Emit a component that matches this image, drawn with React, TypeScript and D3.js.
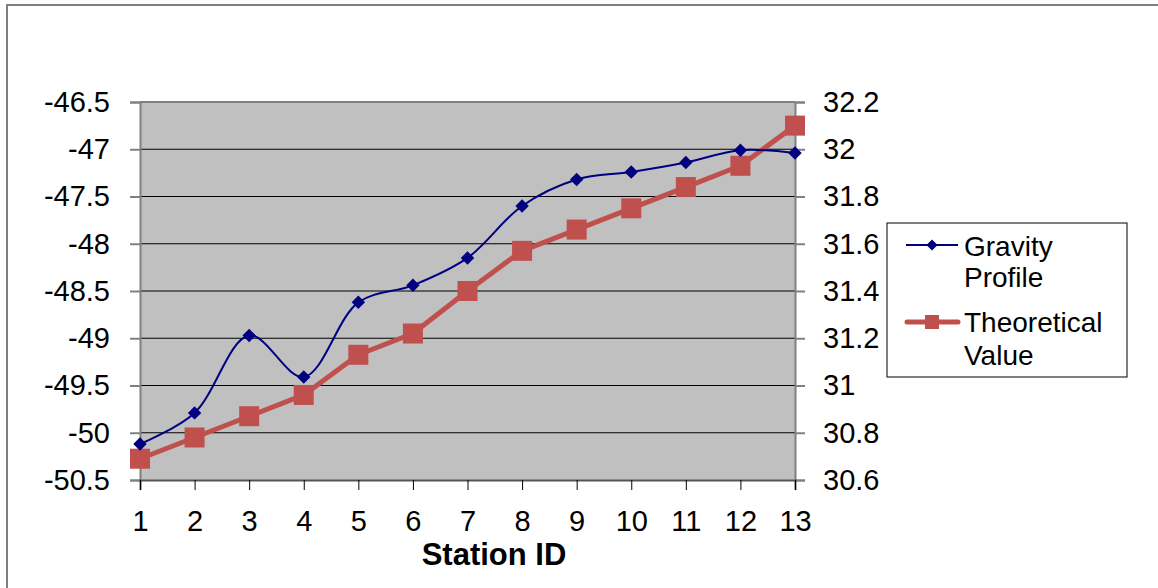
import * as d3 from "d3";
import { useEffect, useRef } from "react";

const stations = [1, 2, 3, 4, 5, 6, 7, 8, 9, 10, 11, 12, 13];
const gravityProfile = [
  -50.12, -49.79, -48.97, -49.41, -48.62, -48.44, -48.15, -47.6, -47.32,
  -47.24, -47.14, -47.01, -47.04,
];
const theoreticalValue = [
  30.69, 30.78, 30.87, 30.96, 31.13, 31.22, 31.4, 31.57, 31.66, 31.75, 31.84,
  31.93, 32.1,
];
const leftTicks = [-50.5, -50, -49.5, -49, -48.5, -48, -47.5, -47, -46.5];
const rightTicks = [30.6, 30.8, 31, 31.2, 31.4, 31.6, 31.8, 32, 32.2];

const W = 1158;
const H = 588;
const FONT = "'Liberation Sans', Arial, sans-serif";

export default function App() {
  const svgRef = useRef<SVGSVGElement>(null);

  useEffect(() => {
    const svg = d3.select(svgRef.current);
    svg.selectAll("*").remove();
    svg.attr("width", W).attr("height", H);

    const plot = { left: 140, right: 795, top: 102, bottom: 480 };

    const xScale = d3
      .scalePoint<number>()
      .domain(stations)
      .range([plot.left, plot.right]);
    const yLeft = d3
      .scaleLinear()
      .domain([-50.5, -46.5])
      .range([plot.bottom, plot.top]);
    const yRight = d3
      .scaleLinear()
      .domain([30.6, 32.2])
      .range([plot.bottom, plot.top]);

    // chart border
    svg
      .append("rect")
      .attr("x", 7)
      .attr("y", 5)
      .attr("width", W + 20)
      .attr("height", H + 20)
      .attr("fill", "#fff")
      .attr("stroke", "#808080")
      .attr("stroke-width", 2);

    // plot background
    svg
      .append("rect")
      .attr("x", plot.left)
      .attr("y", plot.top)
      .attr("width", plot.right - plot.left)
      .attr("height", plot.bottom - plot.top)
      .attr("fill", "#c0c0c0");

    // gridlines
    svg
      .append("g")
      .selectAll("line")
      .data(leftTicks.slice(1, -1))
      .enter()
      .append("line")
      .attr("x1", plot.left)
      .attr("x2", plot.right)
      .attr("y1", (d) => yLeft(d))
      .attr("y2", (d) => yLeft(d))
      .attr("stroke", "#000")
      .attr("stroke-width", 1);

    // top border of plot
    svg
      .append("line")
      .attr("x1", plot.left)
      .attr("x2", plot.right)
      .attr("y1", plot.top)
      .attr("y2", plot.top)
      .attr("stroke", "#808080")
      .attr("stroke-width", 2);

    // left axis
    const gl = svg.append("g").attr("transform", `translate(${plot.left},0)`);
    gl.call(
      d3
        .axisLeft(yLeft)
        .tickValues(leftTicks)
        .tickSize(10)
        .tickPadding(20)
        .tickFormat((d) => String(d).replace("\u2212", "-"))
    );
    gl.select(".domain").attr("stroke", "#808080").attr("stroke-width", 2);
    gl.selectAll(".tick line").attr("stroke", "#808080").attr("stroke-width", 2);
    gl.selectAll(".tick text")
      .attr("font-family", FONT)
      .attr("font-size", 29)
      .attr("fill", "#000");

    // right axis
    const gr = svg.append("g").attr("transform", `translate(${plot.right},0)`);
    gr.call(
      d3
        .axisRight(yRight)
        .tickValues(rightTicks)
        .tickSize(10)
        .tickPadding(18)
        .tickFormat((d) => String(d))
    );
    gr.select(".domain").attr("stroke", "#808080").attr("stroke-width", 2);
    gr.selectAll(".tick line").attr("stroke", "#808080").attr("stroke-width", 2);
    gr.selectAll(".tick text")
      .attr("font-family", FONT)
      .attr("font-size", 29)
      .attr("fill", "#000");

    // bottom axis
    const gb = svg.append("g").attr("transform", `translate(0,${plot.bottom})`);
    gb.call(d3.axisBottom(xScale).tickSize(10).tickPadding(20));
    gb.select(".domain").attr("stroke", "#555").attr("stroke-width", 2);
    gb.selectAll(".tick line").attr("stroke", "#000");
    gb.selectAll(".tick text")
      .attr("font-family", FONT)
      .attr("font-size", 29)
      .attr("fill", "#000");

    // axis title
    svg
      .append("text")
      .attr("x", 494)
      .attr("y", 565)
      .attr("text-anchor", "middle")
      .attr("font-family", FONT)
      .attr("font-size", 31)
      .attr("font-weight", "bold")
      .text("Station ID");

    // theoretical line
    const redLine = d3
      .line<number>()
      .x((_, i) => xScale(stations[i]) ?? 0)
      .y((d) => yRight(d));
    svg
      .append("path")
      .attr("d", redLine(theoreticalValue))
      .attr("fill", "none")
      .attr("stroke", "#c0504d")
      .attr("stroke-width", 5)
      .attr("stroke-linejoin", "round");
    svg
      .append("g")
      .selectAll("rect")
      .data(theoreticalValue)
      .enter()
      .append("rect")
      .attr("x", (_, i) => (xScale(stations[i]) ?? 0) - 10)
      .attr("y", (d) => yRight(d) - 10)
      .attr("width", 20)
      .attr("height", 20)
      .attr("fill", "#c0504d");

    // gravity line (smoothed)
    const blueLine = d3
      .line<number>()
      .x((_, i) => xScale(stations[i]) ?? 0)
      .y((d) => yLeft(d))
      .curve(d3.curveCatmullRom.alpha(0.5));
    svg
      .append("path")
      .attr("d", blueLine(gravityProfile))
      .attr("fill", "none")
      .attr("stroke", "#000080")
      .attr("stroke-width", 2);
    const diamond = d3.symbol().type(d3.symbolDiamond2).size(115)();
    svg
      .append("g")
      .selectAll("path")
      .data(gravityProfile)
      .enter()
      .append("path")
      .attr("d", diamond)
      .attr(
        "transform",
        (d, i) => `translate(${xScale(stations[i]) ?? 0},${yLeft(d)})`
      )
      .attr("fill", "#000080");

    // legend
    const lg = svg.append("g");
    lg.append("rect")
      .attr("x", 887)
      .attr("y", 223)
      .attr("width", 240)
      .attr("height", 154)
      .attr("fill", "#fff")
      .attr("stroke", "#000")
      .attr("stroke-width", 1);
    lg.append("line")
      .attr("x1", 906)
      .attr("x2", 958)
      .attr("y1", 245)
      .attr("y2", 245)
      .attr("stroke", "#000080")
      .attr("stroke-width", 2);
    lg.append("path")
      .attr("d", d3.symbol().type(d3.symbolDiamond2).size(80)())
      .attr("transform", "translate(932,245)")
      .attr("fill", "#000080");
    lg.append("line")
      .attr("x1", 907)
      .attr("x2", 958)
      .attr("y1", 322)
      .attr("y2", 322)
      .attr("stroke", "#c0504d")
      .attr("stroke-width", 5)
      .attr("stroke-linecap", "round");
    lg.append("rect")
      .attr("x", 925)
      .attr("y", 315)
      .attr("width", 14)
      .attr("height", 14)
      .attr("fill", "#c0504d");
    const legendText = [
      ["Gravity", 256],
      ["Profile", 287],
      ["Theoretical", 332],
      ["Value", 365],
    ] as const;
    legendText.forEach(([t, y]) => {
      lg.append("text")
        .attr("x", 964)
        .attr("y", y)
        .attr("font-family", FONT)
        .attr("font-size", 28)
        .text(t);
    });
  }, []);

  return <svg ref={svgRef} style={{ position: "absolute", left: 0, top: 0 }} />;
}
